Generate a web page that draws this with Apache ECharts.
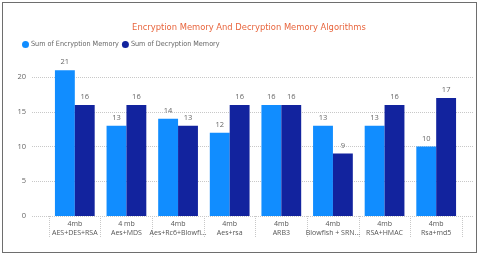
<!DOCTYPE html>
<html><head><meta charset="utf-8">
<script src="https://cdn.jsdelivr.net/npm/echarts@6/dist/echarts.min.js"></script>
<style>
html,body{margin:0;padding:0;background:#fff;}
#frame{position:absolute;left:2px;top:2px;width:473px;height:249px;border:1.5px solid #6e6e6e;}
#c{position:absolute;left:0;top:0;width:480px;height:257px;}
</style></head><body>
<div id="frame"></div>
<div id="c"></div>
<script>
const sizes = ["4mb","4 mb","4mb","4mb","4mb","4mb","4mb","4mb"];
const algorithms = ["AES+DES+RSA","Aes+MDS","Aes+Rc6+Blowfi...","Aes+rsa","ARB3","Blowfish + SRN...","RSA+HMAC","Rsa+md5"];
const encryption = [21,13,14,12,16,13,13,10];
const decryption = [16,16,13,16,16,9,16,17];
const yTicks = [0,5,10,15,20];

const categories = sizes.map((s,i)=> s + "\n" + algorithms[i]);
const chart = echarts.init(document.getElementById('c'), null, {renderer:'canvas'});
const labelStyle = {show:true, position:'top', color:'#666', fontSize:7.5, distance:4, fontFamily:'Open Sans'};
chart.setOption({
  animation:false,
  title:{text:'Encryption Memory And Decryption Memory Algorithms', left:244, textAlign:'center', top:18,
    textStyle:{color:'#E8643C', fontSize:9.3, fontWeight:'normal', fontFamily:'DejaVu Sans Condensed'}},
  legend:{left:17, top:36, itemWidth:7, itemHeight:7, itemGap:3, icon:'circle',
    textStyle:{color:'#666', fontSize:7.2, fontFamily:'DejaVu Sans Condensed', padding:[0,0,0,-3]},
    data:['Sum of Encryption Memory','Sum of Decryption Memory']},
  grid:[
    {left:32, right:7, top:42.5, bottom:41},
    {left:49, right:18, top:42.5, bottom:41}
  ],
  xAxis:[
    {gridIndex:0, type:'value', show:false, min:0, max:1},
    {gridIndex:1, type:'category', data:categories,
      axisLine:{show:false},
      axisTick:{show:true, length:21, lineStyle:{type:'dotted', color:'#c8c8c8'}},
      axisLabel:{color:'#555', fontSize:7, lineHeight:9, margin:3, interval:0, fontFamily:'Open Sans'}}
  ],
  yAxis:[
    {gridIndex:0, type:'value', min:0, max:25, interval:5,
      axisLine:{show:false}, axisTick:{show:false},
      axisLabel:{showMaxLabel:false, color:'#666', fontSize:7.5, margin:6, fontFamily:'Open Sans',
        formatter:v=> yTicks.includes(v)? String(v):''},
      splitLine:{showMaxLine:false, lineStyle:{type:'dotted', color:'#c8c8c8'}}},
    {gridIndex:1, type:'value', min:0, max:25, show:false, splitLine:{show:false}}
  ],
  series:[
    {name:'Sum of Encryption Memory', type:'bar', xAxisIndex:1, yAxisIndex:1, data:encryption,
      itemStyle:{color:'#118DFF'}, barGap:'0%', barCategoryGap:'23%', label:labelStyle},
    {name:'Sum of Decryption Memory', type:'bar', xAxisIndex:1, yAxisIndex:1, data:decryption,
      itemStyle:{color:'#12239E'}, barGap:'0%', barCategoryGap:'23%', label:labelStyle}
  ]
});
</script>
</body></html>
